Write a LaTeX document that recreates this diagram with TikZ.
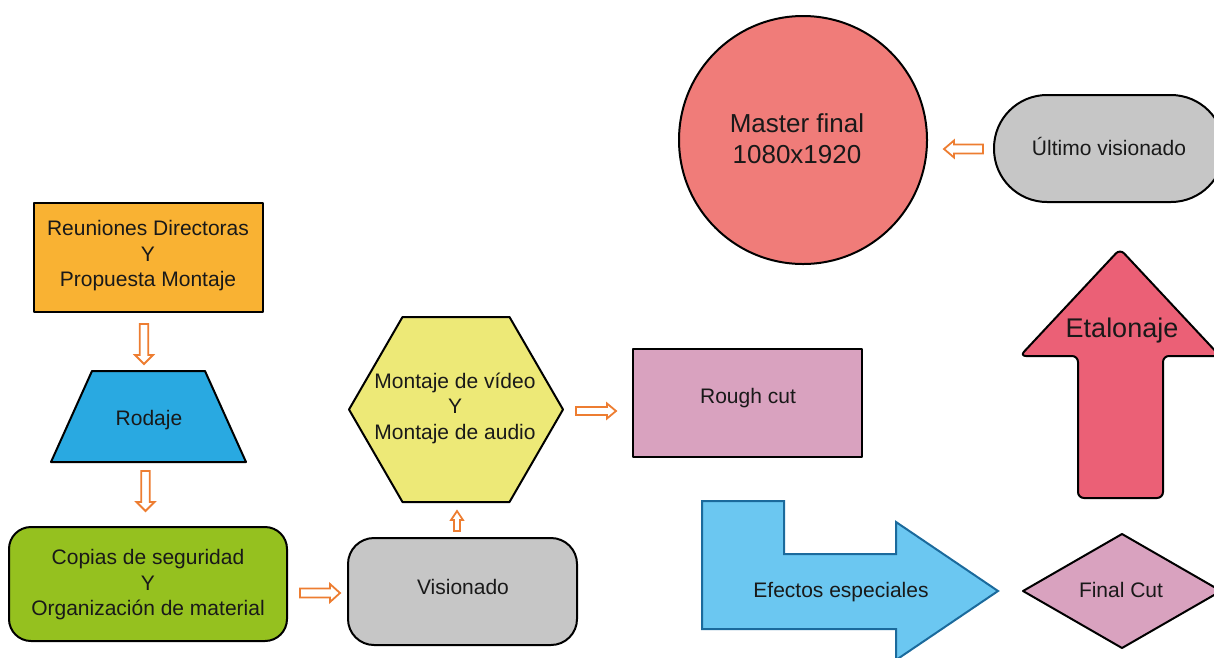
\documentclass[tikz,border=0pt]{standalone}
\usepackage{fontspec}
\setmainfont{Liberation Sans}
\usetikzlibrary{shapes.geometric}
\definecolor{cOrange}{HTML}{F9B233}
\definecolor{cBlue}{HTML}{29A9E1}
\definecolor{cGreen}{HTML}{95C11F}
\definecolor{cGray}{HTML}{C6C6C6}
\definecolor{cYellow}{HTML}{EDE977}
\definecolor{cPink}{HTML}{D9A2BF}
\definecolor{cSky}{HTML}{6BC7F1}
\definecolor{cSkyLine}{HTML}{1B6A9C}
\definecolor{cRed}{HTML}{EB6076}
\definecolor{cSalmon}{HTML}{F07C79}
\definecolor{cArrow}{HTML}{ED7D31}
\begin{document}
\begin{tikzpicture}[x=1pt,y=-1pt,
  shp/.style={draw=black,line width=2pt,line join=round},
  txt/.style={font=\fontsize{21}{25.5}\selectfont,align=center,inner sep=0pt,text=black!90},
  bigtxt/.style={font=\fontsize{26}{31}\selectfont,align=center,inner sep=0pt,text=black!90},
  arrline/.style={draw=cArrow,line width=1.8pt,fill=white,line join=miter},
  pics/harrow/.style n args={4}{code={
    \path[arrline] (0,-#2) -- (#1-#4,-#2) -- (#1-#4,-#3) -- (#1,0) -- (#1-#4,#3) -- (#1-#4,#2) -- (0,#2) -- cycle;
  }}]
\useasboundingbox (0,0) rectangle (1214,657);
\clip (0,0) rectangle (1214,657);

% Reuniones
\node[shp,fill=cOrange,minimum width=229,minimum height=109,inner sep=0pt] (reun) at (148.5,257.5) {};
\node[txt] (reunT) at (148,256) {Reuniones Directoras\\Y\\Propuesta Montaje};

% Rodaje trapezoid
\path[shp,fill=cBlue] (92,371) -- (205,371) -- (246,462) -- (51,462) -- cycle;
\node[txt] (rod) at (149,420) {Rodaje};

% Copias
\path[shp,fill=cGreen,rounded corners=22] (9,527) rectangle (287,641);
\node[txt] (cop) at (148,585) {Copias de seguridad\\Y\\Organización de material};

% Visionado
\path[shp,fill=cGray,rounded corners=26] (348,538) rectangle (577,645);
\node[txt] (vis) at (463,587) {Visionado};

% Hexagon
\path[shp,fill=cYellow] (349,409.5) -- (402.5,317) -- (509.5,317) -- (563,409.5) -- (509.5,502) -- (402.5,502) -- cycle;
\node[txt] (mont) at (455,408) {Montaje de vídeo\\Y\\Montaje de audio};

% Rough cut
\node[shp,fill=cPink,minimum width=229,minimum height=108,inner sep=0pt] (rough) at (747.5,403) {};
\node[txt] (roughT) at (748,398) {Rough cut};

% Efectos especiales arrow
\path[draw=cSkyLine,line width=2pt,fill=cSky,line join=miter]
  (702,501) -- (784,501) -- (784,554) -- (896,554) -- (896,522) -- (998,591) -- (896,660) -- (896,629) -- (702,629) -- cycle;
\node[txt] (efx) at (841,592) {Efectos especiales};

% Final Cut diamond
\path[shp,fill=cPink] (1023,591) -- (1122,534) -- (1221,591) -- (1122,648) -- cycle;
\node[txt] (fc) at (1121,590) {Final Cut};

% Etalonaje arrow
\path[shp,fill=cRed,rounded corners=6]
  (1120,249) -- (1220,356) -- (1163,356) -- (1163,498) -- (1078,498) -- (1078,356) -- (1020,356) -- cycle;
\node[font=\fontsize{27}{32}\selectfont,inner sep=0pt,text=black!90] (eta) at (1122,331) {Etalonaje};

% Master final circle
\node[shp,fill=cSalmon,circle,minimum size=248,inner sep=0pt] (master) at (803,140) {};
\node[bigtxt] (masterT) at (797,139) {Master final\\1080x1920};

% Ultimo visionado
\path[shp,fill=cGray,rounded corners=53] (994,95) rectangle (1224,202);
\node[txt] (ult) at (1109,146.5) {Último visionado};

% hollow orange arrows
\pic[rotate=-90] (a1) at (144,324) {harrow={40}{4.3}{9}{9}};
\pic[rotate=-90] (a2) at (145.5,471) {harrow={40}{4.3}{9}{9}};
\pic (a3) at (300,593) {harrow={40}{4.5}{9}{10}};
\pic[rotate=90] (a4) at (457,531) {harrow={20}{3}{6}{9}};
\pic (a5) at (576,411) {harrow={40}{4}{7.5}{9}};
\pic[rotate=180] (a6) at (983,149) {harrow={39}{4.5}{8.5}{10}};
\end{tikzpicture}
\end{document}
